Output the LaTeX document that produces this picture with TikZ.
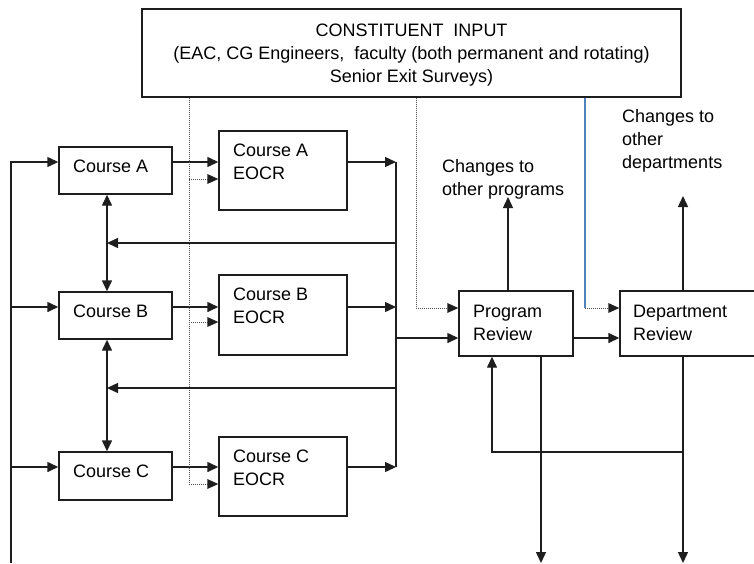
\documentclass[tikz,border=0pt]{standalone}
\usepackage{fontspec}
\setmainfont{Liberation Sans}
\usetikzlibrary{arrows.meta}
\definecolor{linec}{HTML}{1E1E1E}
\definecolor{bluec}{HTML}{4F81BD}
\definecolor{dotc}{HTML}{505050}
\tikzset{
  box/.style={draw=linec, line width=1.4pt, inner sep=0pt, fill=white},
  txt/.style={anchor=base west, inner sep=0pt, align=left, font=\fontsize{18}{23}\selectfont, text=black},
  ln/.style={draw=linec, line width=1.4pt},
  arr/.style={ln, -{Triangle[length=11pt, width=10pt]}},
  darr/.style={ln, {Triangle[length=11pt, width=10pt]}-{Triangle[length=11pt, width=10pt]}},
  dot/.style={draw=dotc, line width=1pt, dash pattern=on 1pt off 1pt},
  dotarr/.style={dot, -{Triangle[length=11pt, width=10pt, color=linec, line width=0pt]}},
}
\begin{document}
\begin{tikzpicture}[x=1pt, y=-1pt]
\useasboundingbox (0,0) rectangle (754,563);
\clip (0,0) rectangle (754,563);
\fill[white] (0,0) rectangle (754,563);

% boxes
\node[box, minimum width=539pt, minimum height=88pt] (ci) at (411.5,53) {};
\node[box, minimum width=113pt, minimum height=47pt] (ca) at (115.5,170.5) {};
\node[box, minimum width=113pt, minimum height=47pt] (cb) at (115.5,315.5) {};
\node[box, minimum width=113pt, minimum height=48pt] (cc) at (115.5,476) {};
\node[box, minimum width=128pt, minimum height=79pt] (ea) at (283,170.5) {};
\node[box, minimum width=128pt, minimum height=80pt] (eb) at (283,315) {};
\node[box, minimum width=128pt, minimum height=79pt] (ec) at (283,476.5) {};
\node[box, minimum width=114pt, minimum height=65pt] (pr) at (516,323.5) {};
\node[box, minimum width=160pt, minimum height=65pt] (dr) at (700,323.5) {};

% texts (multi-line nodes: base = last line's baseline)
\node[txt, anchor=base, align=center] (tci) at (411.5,82) {CONSTITUENT~~INPUT\\(EAC, CG Engineers,~~faculty (both permanent and rotating)\\Senior Exit Surveys)};
\node[txt] (tca) at (73,172) {Course A};
\node[txt] (tcb) at (73,317) {Course B};
\node[txt] (tcc) at (73,477) {Course C};
\node[txt] (tea) at (233,179) {Course A\\EOCR};
\node[txt] (teb) at (233,323) {Course B\\EOCR};
\node[txt] (tec) at (233,485) {Course C\\EOCR};
\node[txt] (tpr) at (473,340) {Program\\Review};
\node[txt] (tdr) at (633,340) {Department\\Review};
\node[txt] (tcp) at (442,195) {Changes to\\other programs};
\node[txt] (tcd) at (622,168) {Changes to\\other\\departments};

% helper coordinates
\coordinate (yA) at (0,162);
\coordinate (yB) at (0,307);
\coordinate (yC) at (0,467);
\coordinate (yAd) at (0,179);
\coordinate (yBd) at (0,322);
\coordinate (yCd) at (0,484);
\coordinate (lbot) at (11,563);
\coordinate (xl) at (11,0);
\coordinate (xv) at (107,0);
\coordinate (xc) at (396,0);
\coordinate (xd1) at (189,0);
\coordinate (xd2) at (416,0);
\coordinate (xb) at (585,0);
\coordinate (fb1) at (0,243);
\coordinate (fb2) at (0,388);
\coordinate (yP) at (0,338);
\coordinate (yPd) at (0,308);
\coordinate (upP) at (508,197);
\coordinate (upD) at (683,196);
\coordinate (dnP) at (541,563);
\coordinate (dnD) at (683,563);
\coordinate (fbR) at (683,452);
\coordinate (xfb) at (492,0);

% left input line
\draw[arr] (lbot) |- (ca.west |- yA);
\draw[arr] (xl |- yB) -- (cb.west |- yB);
\draw[arr] (xl |- yC) -- (cc.west |- yC);

% course -> EOCR
\draw[arr] (ca.east |- yA) -- (ea.west |- yA);
\draw[arr] (cb.east |- yB) -- (eb.west |- yB);
\draw[arr] (cc.east |- yC) -- (ec.west |- yC);

% dotted constituent input to EOCRs
\draw[dotarr] (ci.south -| xd1) |- (ec.west |- yCd);
\draw[dotarr] (xd1 |- yAd) -- (ea.west |- yAd);
\draw[dotarr] (xd1 |- yBd) -- (eb.west |- yBd);

% EOCR -> collector
\draw[arr] (ea.east |- yA) -- (xc |- yA);
\draw[arr] (eb.east |- yB) -- (xc |- yB);
\draw[arr] (ec.east |- yC) -- (xc |- yC);
\draw[ln] (xc |- yA) -- (xc |- yC);

% feedback to courses
\draw[arr] (xc |- fb1) -- (xv |- fb1);
\draw[arr] (xc |- fb2) -- (xv |- fb2);
\draw[darr] (xv |- ca.south) -- (xv |- cb.north);
\draw[darr] (xv |- cb.south) -- (xv |- cc.north);

% collector -> program review
\draw[arr] (xc |- yP) -- (pr.west |- yP);
\draw[dotarr] (ci.south -| xd2) |- (pr.west |- yPd);

% blue line to department review
\draw[bluec, line width=1.2pt] (ci.south -| xb) -- (xb |- yPd);
\draw[dotarr] (xb |- yPd) -- (dr.west |- yPd);

% program review -> department review
\draw[arr] (pr.east |- yP) -- (dr.west |- yP);

% up arrows
\draw[arr] (pr.north -| upP) -- (upP);
\draw[arr] (dr.north -| upD) -- (upD);

% down arrows
\draw[arr] (pr.south -| dnP) -- (dnP);
\draw[arr] (dr.south -| dnD) -- (dnD);

% feedback department -> program review
\draw[arr] (fbR) -| (pr.south -| xfb);
\end{tikzpicture}
\end{document}
